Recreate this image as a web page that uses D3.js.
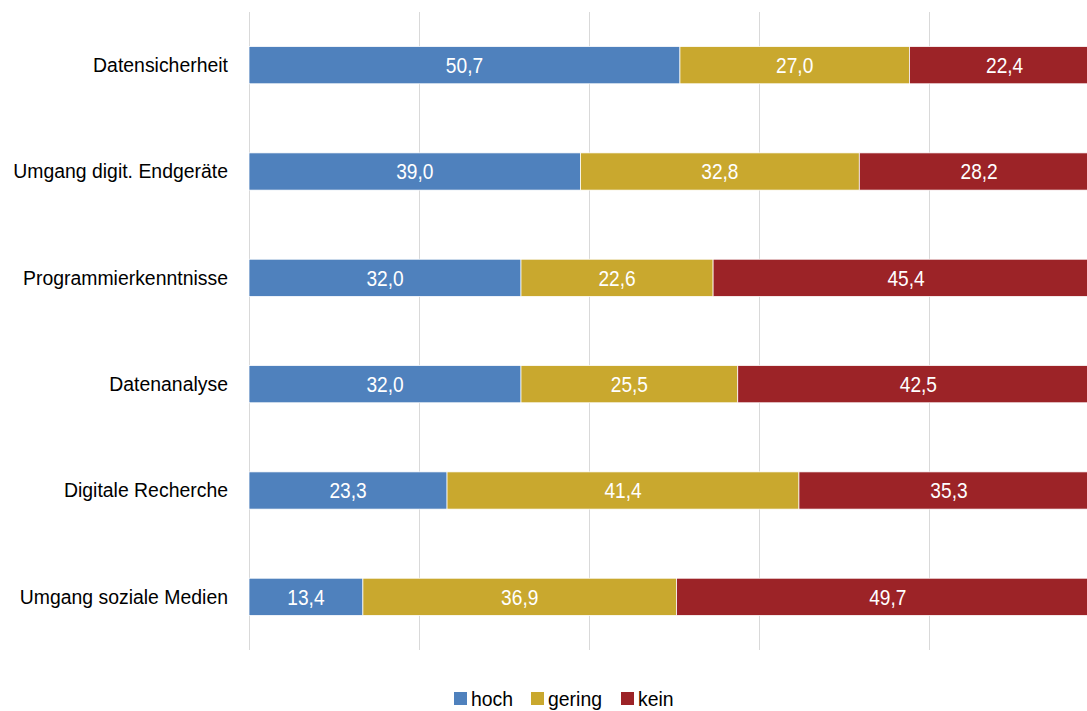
<!DOCTYPE html>
<html><head><meta charset="utf-8">
<script src="https://cdn.jsdelivr.net/npm/d3@7"></script>
<style>
html,body{margin:0;padding:0;background:#fff;overflow:hidden}
svg{display:block}
text{font-family:"Liberation Sans",Arial,sans-serif}
</style></head><body>
<svg id="c" width="1087" height="711"></svg>
<script>
const categories = ["Datensicherheit","Umgang digit. Endgeräte","Programmierkenntnisse","Datenanalyse","Digitale Recherche","Umgang soziale Medien"];
const seriesNames = ["hoch","gering","kein"];
const hoch   = [50.7, 39.0, 32.0, 32.0, 23.3, 13.4];
const gering = [27.0, 32.8, 22.6, 25.5, 41.4, 36.9];
const kein   = [22.4, 28.2, 45.4, 42.5, 35.3, 49.7];
const colors = ["#4f81bd","#c9a82e","#9c2327"];
const gridTicks = [0,20,40,60,80,100];

const AX_SCALE = 0.925, AX_FS = 21;
const LB_SCALE = 0.87, LB_FS = 22;
const svg = d3.select("#c");
const x = d3.scaleLinear().domain([0,100]).range([249,1099]);
const y = d3.scaleBand().domain(categories).range([12,650]).paddingInner(0.65).paddingOuter(0.325);

const fmt = v => d3.format(".1f")(v).replace(".", ",");

svg.append("g").selectAll("line").data(gridTicks).join("line")
  .attr("x1", d=>x(d)+0.5).attr("x2", d=>x(d)+0.5)
  .attr("y1", 12).attr("y2", 650)
  .attr("stroke", "#d9d9d9").attr("stroke-width", 1);

const rows = categories.map((c,i)=>({cat:c, hoch:hoch[i], gering:gering[i], kein:kein[i]}));
const stack = d3.stack().keys(seriesNames)(rows);

const g = svg.append("g");
stack.forEach((s,si)=>{
  const gg = g.append("g");
  gg.selectAll("rect").data(s).join("rect")
    .attr("x", d=>x(d[0])).attr("width", d=>x(d[1])-x(d[0]))
    .attr("y", d=>y(d.data.cat)).attr("height", y.bandwidth())
    .attr("fill", colors[si]).attr("stroke", "#ffffff").attr("stroke-width", 0.75);
  gg.selectAll("text").data(s).join("text")
    .attr("transform", d=>`translate(${(x(d[0])+x(d[1]))/2},${y(d.data.cat)+y.bandwidth()/2}) scale(${LB_SCALE},1)`)
    .attr("dy", "0.36em").attr("text-anchor", "middle")
    .attr("fill", "#fff").attr("font-size", LB_FS)
    .text(d=>fmt(d.data[seriesNames[si]]));
});

const yAxis = d3.axisLeft(y).tickSize(0).tickPadding(0);
const ya = svg.append("g").attr("transform","translate(228,0)").call(yAxis);
ya.select(".domain").remove();
ya.selectAll("text").attr("font-size", AX_FS).attr("fill", "#000")
  .attr("font-family", '"Liberation Sans",Arial,sans-serif')
  .attr("transform", `scale(${AX_SCALE},1)`);

const legendX = [454, 531, 621];
const lg = svg.append("g");
seriesNames.forEach((n,i)=>{
  lg.append("rect").attr("x", legendX[i]).attr("y", 692).attr("width", 13).attr("height", 13).attr("fill", colors[i]);
  lg.append("text").attr("transform", `translate(${legendX[i]+17},706) scale(${AX_SCALE},1)`)
    .attr("font-size", AX_FS).attr("fill", "#000").text(n);
});
</script>
</body></html>
